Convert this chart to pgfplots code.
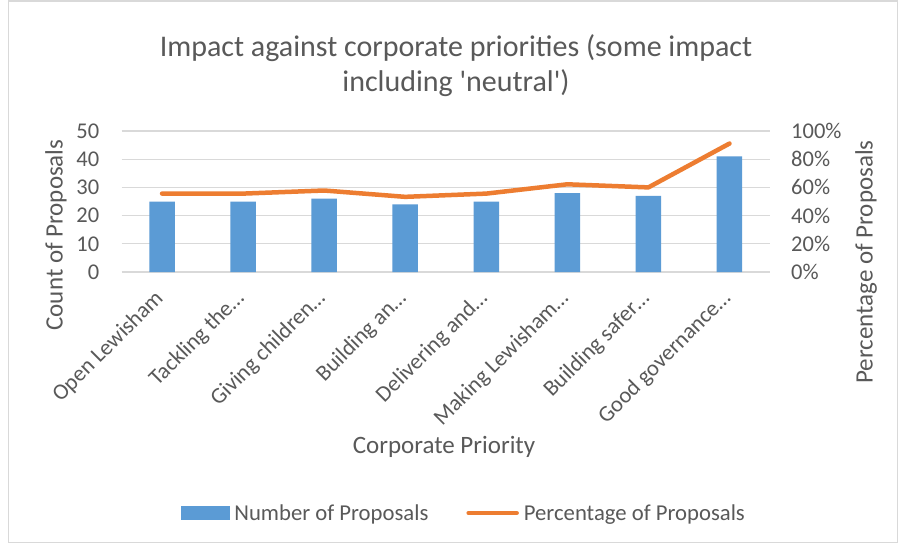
\documentclass[border=0pt]{standalone}
\usepackage{fontspec}
\setmainfont{Carlito}[Ligatures=TeXOff]
\usepackage{pgfplots}
\usepackage{pgfplotstable}
\pgfplotsset{compat=1.18}
\definecolor{barblue}{HTML}{5B9BD5}
\definecolor{lineorange}{HTML}{ED7D31}
\definecolor{txtgray}{HTML}{595959}
\definecolor{gridgray}{HTML}{D9D9D9}

% count of proposals and share of 45
\pgfplotstableread{
x count pct
0 25 55.6
1 25 55.6
2 26 57.8
3 24 53.3
4 25 55.6
5 28 62.2
6 27 60.0
7 41 91.1
}\data

\begin{document}
\begin{tikzpicture}[x=1pt,y=1pt]
\path[use as bounding box, fill=white] (0,0) rectangle (899,544);
\draw[gridgray, line width=1.2pt] (8.5,1.5) rectangle (897.5,543);

\node[txtgray, font=\fontsize{30}{35}\selectfont, align=center] at (456,478)
  {Impact against corporate priorities (some impact\\including 'neutral')};
\node[txtgray, rotate=90, font=\fontsize{25}{30}\selectfont] at (56,309) {Count of Proposals};
\node[txtgray, rotate=90, font=\fontsize{25}{30}\selectfont] at (866,282) {Percentage of Proposals};
\node[txtgray, font=\fontsize{25}{30}\selectfont] at (444,97) {Corporate Priority};

\pgfplotsset{every axis/.append style={
  at={(121.5pt,272pt)}, anchor=south west,
  scale only axis, width=648.5pt, height=141pt,
  xmin=-0.5, xmax=7.5,
  axis line style={draw=none}, tick style={draw=none},
  tick label style={text=txtgray, font=\fontsize{22.5}{25}\selectfont},
  /pgf/number format/assume math mode=true,
}}

\begin{axis}[
  ymin=0, ymax=50, ytick={0,10,...,50},
  ymajorgrids, grid style={gridgray, line width=1.3pt},
  yticklabel style={anchor=east, inner sep=0pt, xshift=-22pt},
  xtick={0,...,7},
  xticklabels={Open Lewisham, Tackling the…, Giving children…, Building an…,
    Delivering and…, Making Lewisham…, Building safer…, Good governance…},
  xticklabel style={anchor=north east, inner sep=0pt, xshift=-9pt, yshift=-16pt, rotate=45},
]
\addplot[ybar, bar width=25.5pt, fill=barblue, draw=none] table[x=x,y=count]{\data};
\end{axis}

\begin{axis}[
  ymin=0, ymax=100, ytick={0,20,...,100},
  axis y line*=right, axis x line=none,
  yticklabel={\pgfmathprintnumber{\tick}\%},
  yticklabel style={anchor=west, inner sep=0pt, xshift=21pt},
  legend columns=2,
  legend style={draw=none, fill=none, at={(0.528,-1.709)}, anchor=center,
    text=txtgray, font=\fontsize{22.7}{25}\selectfont,
    /tikz/every odd column/.append style={column sep=3pt},
    /tikz/every even column/.append style={column sep=36pt}},
]
\addlegendimage{legend image code/.code={\fill[barblue] (0pt,-6.5pt) rectangle (48pt,6.5pt);}}
\addlegendentry{Number of Proposals}
\addplot[lineorange, line width=4.5pt, line cap=round, line join=round,
  legend image code/.code={\draw[lineorange, line width=4.5pt, line cap=round] (2pt,0pt) -- (50pt,0pt);}]
  table[x=x,y=pct]{\data};
\addlegendentry{Percentage of Proposals}
\end{axis}
\end{tikzpicture}
\end{document}
